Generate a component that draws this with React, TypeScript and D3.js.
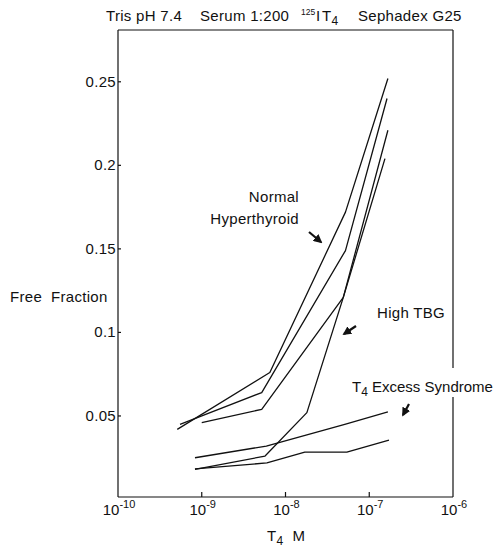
import React from 'react';
import * as d3 from 'd3';

// Free fraction of T4 vs total T4 concentration
const normalAX = [5.1e-10, 6.5e-9, 5.2e-8, 1.67e-7];
const normalAY = [0.042, 0.076, 0.172, 0.252];

const normalBX = [5.5e-10, 5.2e-9, 5.2e-8, 1.63e-7];
const normalBY = [0.045, 0.064, 0.149, 0.24];

const hyperX = [1.0e-9, 5.2e-9, 4.9e-8, 1.54e-7];
const hyperY = [0.046, 0.054, 0.121, 0.204];

const highTbgX = [8.3e-10, 5.7e-9, 1.8e-8, 4.9e-8, 1.67e-7];
const highTbgY = [0.018, 0.026, 0.052, 0.121, 0.221];

const excessAX = [8.3e-10, 5.9e-9, 5.1e-8, 1.67e-7];
const excessAY = [0.025, 0.032, 0.045, 0.0524];

const excessBX = [8.3e-10, 6.0e-9, 1.7e-8, 5.4e-8, 1.72e-7];
const excessBY = [0.0183, 0.0219, 0.0284, 0.0284, 0.0356];

const xTickExps = [-10, -9, -8, -7, -6];
const yTicks = [0.05, 0.1, 0.15, 0.2, 0.25];
const yTickLabels = ['0.05', '0.1', '0.15', '0.2', '0.25'];

const series = [
  { xs: normalAX, ys: normalAY },
  { xs: normalBX, ys: normalBY },
  { xs: hyperX, ys: hyperY },
  { xs: highTbgX, ys: highTbgY },
  { xs: excessAX, ys: excessAY },
  { xs: excessBX, ys: excessBY },
];

const W = 497;
const H = 552;
const left = 118;
const right = 453;
const top = 30;
const bottom = 497;

const font = '"Liberation Sans", Arial, Helvetica, sans-serif';
const ink = '#111';
const nb = '\u00a0';

export default function App() {
  const x = d3.scaleLog().domain([1e-10, 1e-6]).range([left, right]);
  const y = d3.scaleLinear().domain([0.0015, 0.281]).range([bottom, top]);

  const line = d3
    .line<[number, number]>()
    .x((d) => x(d[0]))
    .y((d) => y(d[1]));

  const textStyle = { fontFamily: font, fontSize: 15, fill: ink, letterSpacing: 0.3 } as const;

  return (
    <svg
      width={W}
      height={H}
      viewBox={`0 0 ${W} ${H}`}
      style={{ position: 'absolute', left: 0, top: 0, background: '#fff' }}
    >
      <defs>
        <marker id="head" viewBox="0 0 10 10" refX="8" refY="5" markerWidth="4" markerHeight="4" orient="auto">
          <path d="M0,0 L10,5 L0,10 z" fill={ink} />
        </marker>
      </defs>

      {/* title */}
      <g {...textStyle}>
        <text x={106} y={21}>Tris pH 7.4</text>
        <text x={200} y={21}>Serum 1:200</text>
        <text x={301} y={15} fontSize={8.5} letterSpacing={0}>125</text>
        <text x={316} y={21}>I</text>
        <text x={322} y={21}>
          T<tspan dy={4} fontSize={12}>4</tspan>
        </text>
        <text x={358} y={21}>Sephadex G25</text>
      </g>

      {/* frame */}
      <g stroke={ink} strokeWidth={1.2} fill="none">
        <line x1={left} y1={top} x2={right} y2={top} />
        <line x1={left} y1={top} x2={left} y2={bottom} />
        <line x1={left} y1={bottom} x2={right} y2={bottom} />
        <line x1={right} y1={top} x2={right} y2={368} />
        <line x1={right} y1={397} x2={right} y2={bottom} />
      </g>

      {/* x ticks */}
      {xTickExps.map((e) => (
        <g key={e}>
          {e > -10 && e < -6 && (
            <line x1={x(10 ** e)} x2={x(10 ** e)} y1={bottom} y2={bottom - 5} stroke={ink} strokeWidth={1.2} />
          )}
          <text x={x(10 ** e) + 1} y={515} textAnchor="middle" {...textStyle} letterSpacing={0}>
            10<tspan dy={-7} fontSize={11}>{e}</tspan>
          </text>
        </g>
      ))}

      {/* y ticks */}
      {yTicks.map((v, i) => (
        <g key={v}>
          <line x1={left} x2={left + 3} y1={y(v)} y2={y(v)} stroke={ink} strokeWidth={1.2} />
          <text x={116} y={y(v) + 5} textAnchor="end" {...textStyle}>
            {yTickLabels[i]}
          </text>
        </g>
      ))}

      {/* axis titles */}
      <text x={10} y={302} {...textStyle}>{`Free${nb} Fraction`}</text>
      <text x={267} y={541} {...textStyle}>
        T<tspan dy={4} fontSize={12}>4</tspan>
        <tspan dy={-4}>{`${nb}${nb}M`}</tspan>
      </text>

      {/* curves */}
      <g fill="none" stroke={ink} strokeWidth={1.3} strokeLinejoin="round">
        {series.map((s, i) => (
          <path key={i} d={line(s.xs.map((v, j) => [v, s.ys[j]] as [number, number])) || ''} />
        ))}
      </g>

      {/* annotations */}
      <g {...textStyle}>
        <text x={299} y={202} textAnchor="end">Normal</text>
        <text x={299} y={224} textAnchor="end">Hyperthyroid</text>
        <text x={377} y={318}>High TBG</text>
        <text x={352} y={392} letterSpacing={0}>
          T<tspan dy={4} fontSize={12}>4</tspan>
          <tspan dy={-4}> Excess Syndrome</tspan>
        </text>
      </g>
      <g stroke={ink} strokeWidth={2.2} markerEnd="url(#head)">
        <line x1={309} y1={232} x2={321} y2={242} />
        <line x1={356} y1={326} x2={344} y2={334} />
        <line x1={409} y1={404} x2={403} y2={415} />
      </g>
    </svg>
  );
}
